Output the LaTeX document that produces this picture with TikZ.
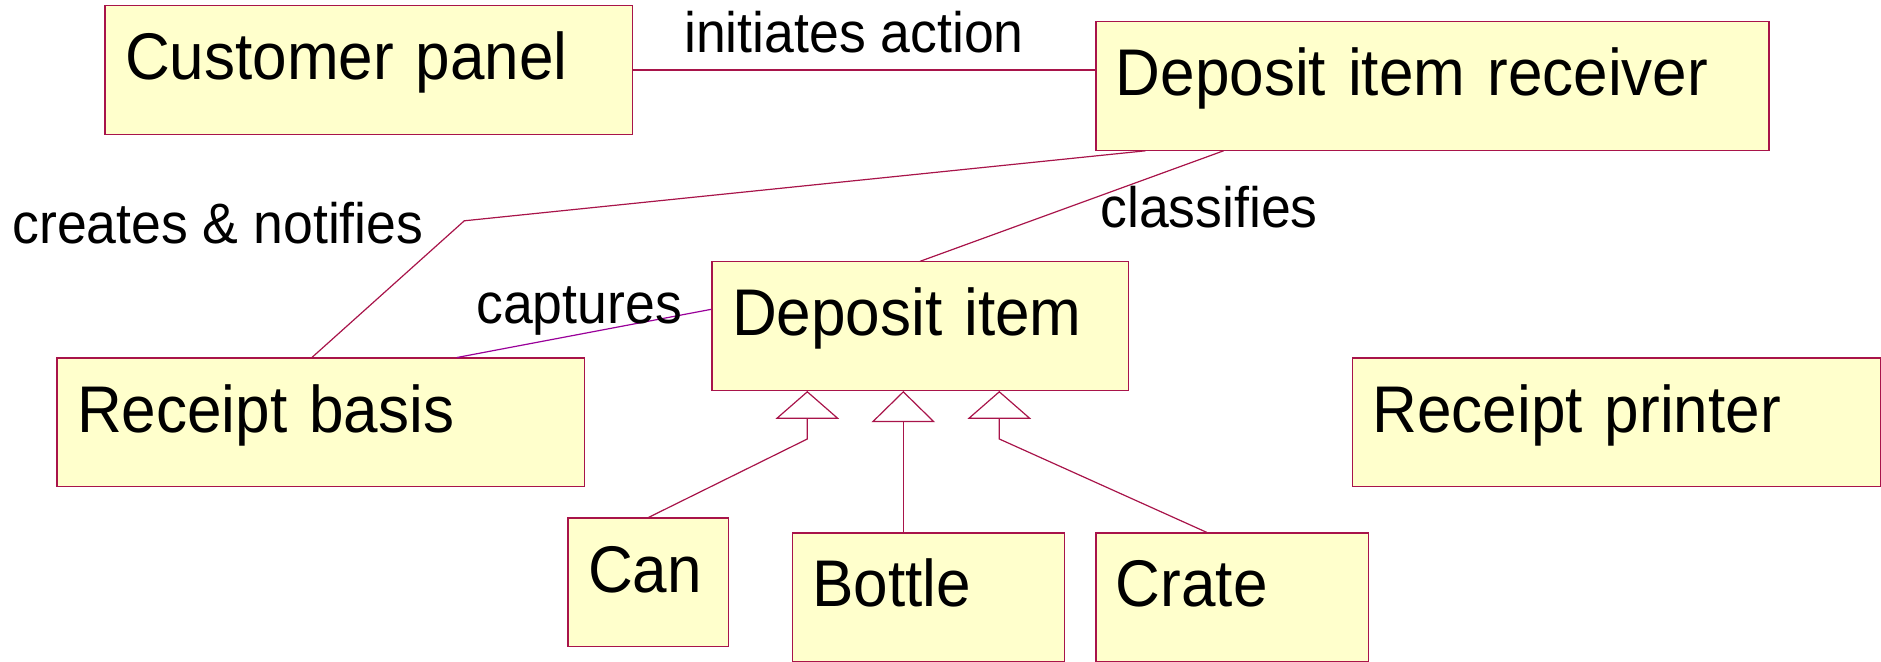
\documentclass[tikz,border=0pt]{standalone}
\usepackage{fontspec}
\setmainfont{Liberation Sans}[FakeStretch=0.94]
\usetikzlibrary{arrows.meta, calc}
\definecolor{UmlBorder}{HTML}{A8144A}
\definecolor{UmlFill}{HTML}{FFFFCC}
\definecolor{UmlPurple}{HTML}{990099}

\tikzset{
  classbox/.style={draw=UmlBorder, line width=0.6pt, fill=UmlFill, anchor=north west,
    inner xsep=10pt, inner ysep=0pt, text height=37pt, text depth=27.25pt,
    align=left, font=\fontsize{33}{38}\selectfont},
  assoc/.style={draw=UmlBorder, line width=0.6pt},
  gentip/.style={draw=UmlBorder, line width=0.6pt,
    -{Triangle[open, length=13.9pt, width=31.75pt]}},
  rolelabel/.style={anchor=base west, inner sep=0pt, font=\fontsize{28.5}{33}\selectfont}
}

\begin{document}
\begin{tikzpicture}[x=0.5pt, y=-0.5pt]
  \useasboundingbox (0,0) rectangle (1881,662);

  % classes
  \node[classbox, text width=243.9pt] (panel) at (104.4,5.1) {Customer panel};
  \node[classbox, text width=316.5pt] (receiver) at (1095.3,21.1) {Deposit item receiver};
  \node[classbox, text width=188.1pt] (item) at (711.4,261.3) {Deposit item};
  \node[classbox, text width=243.9pt] (basis) at (56.4,357.5) {Receipt basis};
  \node[classbox, text width=244pt] (printer) at (1352,357.5) {Receipt printer};
  \node[classbox, text width=60.4pt] (can) at (567.4,517.5) {Can};
  \node[classbox, text width=116.15pt] (bottle) at (791.8,532.4) {Bottle};
  \node[classbox, text width=116.15pt] (crate) at (1095.3,532.4) {Crate};

  % associations
  \draw[assoc] (panel.east) -- (panel.east -| receiver.west);
  \coordinate (notifybend) at (464.3,220.8);
  \draw[assoc] ([xshift=25.15pt]receiver.south west) -- (notifybend)
    -- ([xshift=127.75pt]basis.north west);
  \draw[assoc] ([xshift=64.15pt]receiver.south west) -- (item.north);
  \draw[assoc, draw=UmlPurple] ([yshift=-24pt]item.north west)
    -- ([xshift=200.3pt]basis.north west);

  \node[rolelabel] (initlbl) at (683.8,52.8) {initiates action};
  \node[rolelabel] (notifylbl) at (12,243.6) {creates \& notifies};
  \node[rolelabel] (classlbl) at (1100,228) {classifies};
  \node[rolelabel] (capturelbl) at (476,323.3) {captures};

  % generalizations
  \coordinate (genA) at ([xshift=47.95pt]item.south west);
  \coordinate (genB) at ([xshift=95.95pt]item.south west);
  \coordinate (genC) at ([xshift=143.95pt]item.south west);
  \draw[gentip] (can.north) -- ([yshift=-24pt]genA) -- (genA);
  \draw[gentip, -{Triangle[open, length=15.6pt, width=31.75pt]}]
    ([xshift=55.75pt]bottle.north west) -- (genB);
  \draw[gentip] ([xshift=55.75pt]crate.north west) -- ([yshift=-24pt]genC) -- (genC);
\end{tikzpicture}
\end{document}
